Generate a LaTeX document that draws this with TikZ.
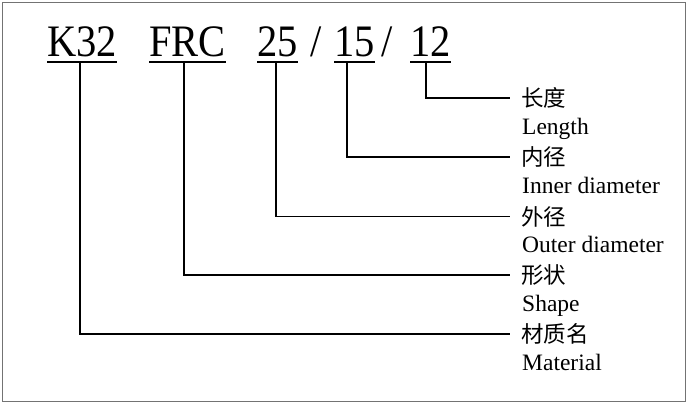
\documentclass[tikz,border=0pt]{standalone}
\usepackage{fontspec}
\usepackage{graphicx}
\setmainfont{Liberation Serif}
\newfontfamily\cjk{Noto Sans CJK SC}
\newcommand{\ttl}[1]{\scalebox{0.9}[1]{#1}}
\begin{document}
\begin{tikzpicture}[x=1pt,y=-1pt,
  title/.style={inner sep=0pt,anchor=base west,font=\fontsize{45}{45}\selectfont},
  ul/.style={line width=2.8pt},
  conn/.style={line width=1.6pt,line join=miter},
  zh/.style={inner sep=0pt,anchor=west,font=\cjk\fontsize{22.5}{22.5}\selectfont},
  en/.style={inner sep=0pt,anchor=base west,font=\fontsize{23.5}{23.5}\selectfont}]
\useasboundingbox (0,0) rectangle (688,403);
\draw[black!55,line width=1.5pt] (2.5,2.5) rectangle (685.5,401.5);
% title
\node[title] (k32) at (47,57) {\ttl{K32}};
\node[title] (frc) at (149,57) {\ttl{FRC}};
\node[title] (od) at (257,57) {\ttl{25}};
\node[title] (s1) at (310,57) {\ttl{/}};
\node[title] (id) at (334,57) {\ttl{15}};
\node[title] (s2) at (381,57) {\ttl{/}};
\node[title] (len) at (410,57) {\ttl{12}};
\foreach \n in {k32,frc,od,id,len}
  \draw[ul] ([yshift=-5pt]\n.base west) -- ([yshift=-5pt]\n.base east);
% labels
\node[zh] (zlen) at (521,98) {长度};
\node[en] (elen) at (522,135) {Length};
\node[zh] (zid) at (521,157) {内径};
\node[en] (eid) at (522,193.5) {Inner diameter};
\node[zh] (zod) at (521,216.5) {外径};
\node[en] (eod) at (522,252.5) {Outer diameter};
\node[zh] (zfrc) at (521,275) {形状};
\node[en] (efrc) at (522,311.5) {Shape};
\node[zh] (zk) at (521,334) {材质名};
\node[en] (ek) at (522,370.5) {Material};
% connector start points on the underlines
\coordinate (ck) at (80,62);
\coordinate (cf) at (184,62);
\coordinate (co) at (276,62);
\coordinate (ci) at (347,62);
\coordinate (cl) at (426,62);
\draw[conn] (cl) |- ([xshift=-11pt]zlen.west);
\draw[conn] (ci) |- ([xshift=-11pt]zid.west);
\draw[conn] (co) |- ([xshift=-11pt]zod.west);
\draw[conn] (cf) |- ([xshift=-11pt]zfrc.west);
\draw[conn] (ck) |- ([xshift=-11pt]zk.west);
\end{tikzpicture}
\end{document}
